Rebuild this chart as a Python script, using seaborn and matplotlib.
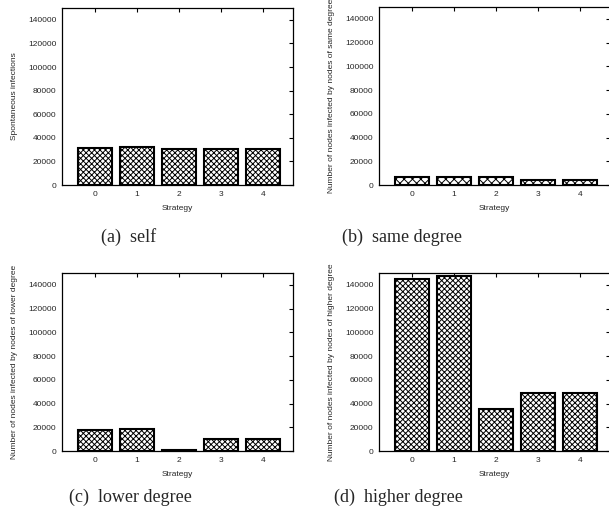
import matplotlib
matplotlib.use("Agg")
import matplotlib.pyplot as plt
import seaborn as sns
import pandas as pd

strategies = ["0", "1", "2", "3", "4"]
self_vals = [31500, 32000, 30200, 30200, 30500]
same_vals = [6500, 6500, 6500, 4000, 4000]
lower_vals = [17700, 18200, 500, 9800, 9800]
higher_vals = [144800, 147300, 35000, 48500, 48500]

ylabels = [
    "Spontaneous infections",
    "Number of nodes infected by nodes of same degree",
    "Number of nodes infected by nodes of lower degree",
    "Number of nodes infected by nodes of higher degree",
]
captions = ["(a)  self", "(b)  same degree", "(c)  lower degree", "(d)  higher degree"]
yticks = [0, 20000, 40000, 60000, 80000, 100000, 120000, 140000]

sns.set_theme(style="white")
plt.rcParams["font.family"] = ["Liberation Sans", "DejaVu Sans"]
plt.rcParams["hatch.linewidth"] = 0.7

W, H = 609, 518
fig = plt.figure(figsize=(W / 100, H / 100), dpi=100)

# pixel boxes: left, top, right, bottom
boxes = [(62, 8, 293, 185), (379, 7, 610, 185), (62, 273, 293, 451), (379, 273, 610, 451)]
caption_pos = [(129, 237), (402, 237), (130, 497), (398, 497)]
series = [self_vals, same_vals, lower_vals, higher_vals]
hatches = ["xxxxxx", "xxxx", "xxxxxx", "xxxxxx"]

for i in range(4):
    l, t, r, b = boxes[i]
    ax = fig.add_axes([l / W, (H - b) / H, (r - l) / W, (b - t) / H])
    df = pd.DataFrame({"Strategy": strategies, "value": series[i]})
    sns.barplot(data=df, x="Strategy", y="value", ax=ax, color="white",
                edgecolor="black", linewidth=1.5, hatch=hatches[i], width=0.8,
                saturation=1)
    ax.set_ylim(0, 150000)
    ax.set_xlim(-0.78, 4.72)
    ax.set_yticks(yticks)
    ax.set_yticklabels([str(v) for v in yticks])
    ax.set_xlabel("Strategy", fontsize=6, labelpad=5)
    ax.set_ylabel(ylabels[i], fontsize=6, labelpad=7)
    ax.tick_params(axis="both", direction="in", length=3, width=0.8,
                   labelsize=6, top=True, right=True, pad=4, color="black")
    for sp in ax.spines.values():
        sp.set_visible(True)
        sp.set_color("black")
        sp.set_linewidth(0.9)
    cx, cy = caption_pos[i]
    fig.text(cx / W, 1 - cy / H, captions[i], ha="center", va="center",
             fontsize=13, family=["Liberation Serif", "DejaVu Serif"])

fig.savefig("out.png", dpi=100)
